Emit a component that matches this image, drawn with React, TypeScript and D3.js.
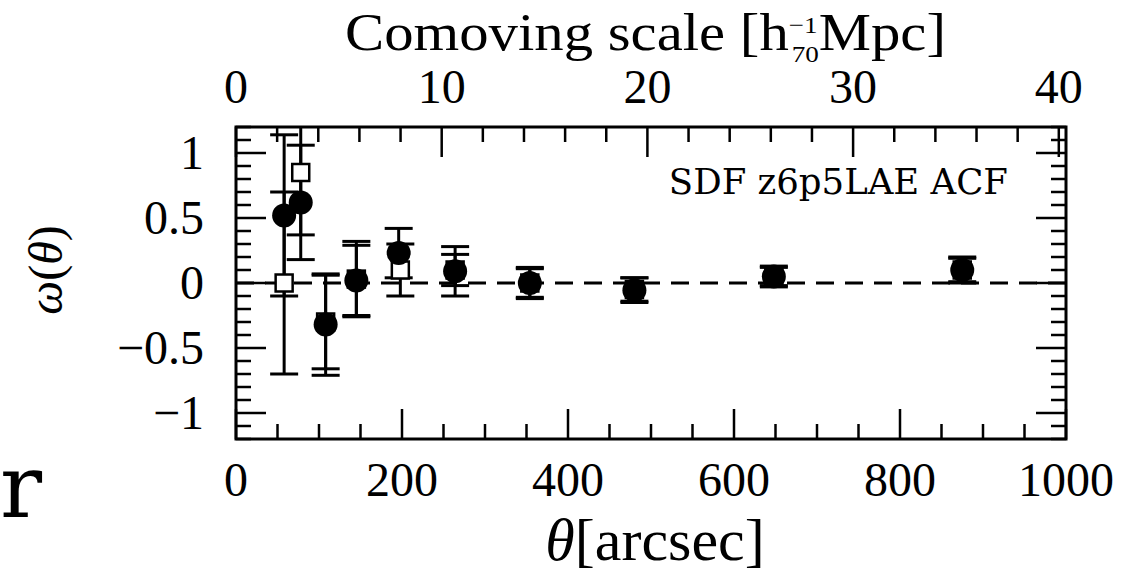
import React from "react";
import * as d3 from "d3";

// angular separation of the bins [arcsec]
const filledTheta = [58, 78, 108, 145, 196, 264, 354, 480, 648, 875];
const filledW = [0.52, 0.62, -0.32, 0.02, 0.23, 0.09, 0.0, -0.055, 0.05, 0.1];
const filledErr = [0.62, 0.44, 0.39, 0.27, 0.19, 0.19, 0.12, 0.095, 0.08, 0.1];

const openTheta = [58, 78, 108, 145, 198, 264, 354, 480, 648, 875];
const openW = [0.0, 0.85, -0.3, 0.03, 0.1, 0.1, 0.0, -0.05, 0.05, 0.1];
const openErr = [0.7, 0.48, 0.36, 0.29, 0.2, 0.12, 0.11, 0.09, 0.07, 0.09];

const bottomTicks = [0, 200, 400, 600, 800, 1000];
const topTicks = [0, 10, 20, 30, 40];
const leftTicks = [1, 0.5, 0, -0.5, -1];
const leftTickLabels = ["1", "0.5", "0", "\u22120.5", "\u22121"];

const W = 1144;
const H = 574;
const left = 236, right = 1066, top = 127, bottom = 439;

export default function App() {
  const x = d3.scaleLinear().domain([0, 1000]).range([left, right]);
  const xTop = d3.scaleLinear().domain([0, 40.35]).range([left, right]);
  const y = d3.scaleLinear().domain([-1.2, 1.2]).range([bottom, top]);

  const major = 30, minor = 15;
  const tickW = 2.5;

  const bottomMinor = d3.range(0, 1001, 50);
  const topMinor = d3.range(0, 40.1, 2);
  const yMinor = d3.range(-12, 13, 1).map((v) => v / 10);

  const cap = 14;
  const errBar = (cx: number, v: number, e: number, key: string) => (
    <g key={key} stroke="#000" strokeWidth={3}>
      <line x1={cx} x2={cx} y1={y(v + e)} y2={y(v - e)} />
      <line x1={cx - cap} x2={cx + cap} y1={y(v + e)} y2={y(v + e)} />
      <line x1={cx - cap} x2={cx + cap} y1={y(v - e)} y2={y(v - e)} />
    </g>
  );

  const serif = "'Liberation Serif', 'Times New Roman', serif";
  const dserif = "'DejaVu Serif', serif";

  return (
    <div style={{ position: "absolute", left: 0, top: 0 }}>
      <svg width={W} height={H} style={{ display: "block", background: "#fff" }}>
        <defs>
          <clipPath id="frame">
            <rect x={left} y={top} width={right - left} height={bottom - top} />
          </clipPath>
        </defs>

        {/* zero line */}
        <line
          x1={left}
          x2={right}
          y1={y(0)}
          y2={y(0)}
          stroke="#000"
          strokeWidth={3}
          strokeDasharray="18 11"
        />

        <g clipPath="url(#frame)">
          {openTheta.map((t, i) => errBar(x(t), openW[i], openErr[i], "oe" + i))}
          {filledTheta.map((t, i) => errBar(x(t), filledW[i], filledErr[i], "fe" + i))}
          {openTheta.map((t, i) => (
            <rect
              key={"os" + i}
              x={x(t) - 8.5}
              y={y(openW[i]) - 8.5}
              width={17}
              height={17}
              fill="#fff"
              stroke="#000"
              strokeWidth={2.5}
            />
          ))}
          {filledTheta.map((t, i) => (
            <circle key={"fc" + i} cx={x(t)} cy={y(filledW[i])} r={12} fill="#000" />
          ))}
        </g>

        {/* ticks */}
        <g stroke="#000" strokeWidth={tickW}>
          {bottomMinor.map((v) => {
            const len = v % 200 === 0 ? major : minor;
            return <line key={"b" + v} x1={x(v)} x2={x(v)} y1={bottom} y2={bottom - len} />;
          })}
          {topMinor.map((v) => {
            const len = v % 10 === 0 ? major : minor;
            return <line key={"t" + v} x1={xTop(v)} x2={xTop(v)} y1={top} y2={top + len} />;
          })}
          {yMinor.map((v) => {
            const len = Math.round(v * 10) % 5 === 0 ? major : minor;
            return (
              <g key={"y" + v}>
                <line x1={left} x2={left + len} y1={y(v)} y2={y(v)} />
                <line x1={right} x2={right - len} y1={y(v)} y2={y(v)} />
              </g>
            );
          })}
        </g>

        <rect
          x={left}
          y={top}
          width={right - left}
          height={bottom - top}
          fill="none"
          stroke="#000"
          strokeWidth={3}
        />

        {/* tick labels */}
        <g fontFamily={serif} fontSize={48} fill="#000" textAnchor="middle">
          {bottomTicks.map((v) => (
            <text key={"bl" + v} x={x(v)} y={496}>
              {v}
            </text>
          ))}
          {topTicks.map((v) => (
            <text key={"tl" + v} x={xTop(v)} y={103}>
              {v}
            </text>
          ))}
        </g>
        <g fontFamily={serif} fontSize={48} fill="#000" textAnchor="end">
          {leftTicks.map((v, i) => (
            <text key={"ll" + v} x={204} y={y(v) + 16}>
              {leftTickLabels[i]}
            </text>
          ))}
        </g>

        {/* axis titles */}
        <text x={655} y={560} fontFamily={serif} fontSize={60} textAnchor="middle">
          <tspan fontStyle="italic">θ</tspan>[arcsec]
        </text>
        <text
          transform="translate(345,50) scale(1.13,1)"
          fontFamily={serif}
          fontSize={52}
        >
          Comoving scale [h
          <tspan fontSize={24} dy={-17}>−1</tspan>
          <tspan fontSize={24} dx={-23} dy={29}>70</tspan>
          <tspan dy={-12}>Mpc]</tspan>
        </text>
        <text
          transform={`translate(62,270) rotate(-90)`}
          fontFamily={serif}
          fontSize={48}
          textAnchor="middle"
        >
          <tspan fontStyle="italic">ω</tspan>(<tspan fontStyle="italic">θ</tspan>)
        </text>

        <text x={1008} y={194} fontFamily={dserif} fontSize={35.5} textAnchor="end">
          SDF z6p5LAE ACF
        </text>

        {/* stray letter from the neighbouring text */}
        <text x={42} y={517} fontFamily={dserif} fontSize={88} textAnchor="end">
          r
        </text>
      </svg>
    </div>
  );
}
